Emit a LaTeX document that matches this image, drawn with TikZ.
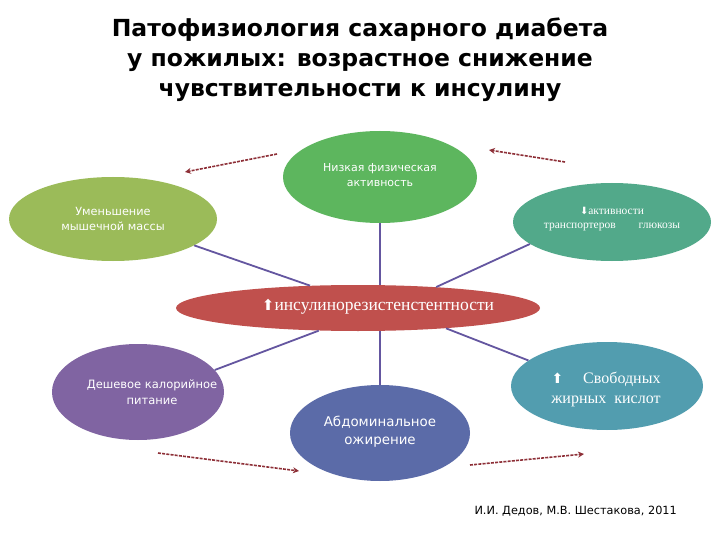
\documentclass[tikz,border=0pt]{standalone}
\usepackage{fontspec}
\setmainfont{Liberation Serif}
\setsansfont{DejaVu Sans}
\newfontfamily\titlefont{DejaVu Sans}
\newfontfamily\lightsans{DejaVu Sans}
\newfontfamily\symb{DejaVu Sans}
\usetikzlibrary{shapes.geometric,arrows.meta}
\definecolor{cgreen}{HTML}{5DB65E}
\definecolor{colive}{HTML}{9BBB59}
\definecolor{cteal}{HTML}{52A98A}
\definecolor{cred}{HTML}{C0504D}
\definecolor{cpurple}{HTML}{8064A2}
\definecolor{cblue}{HTML}{5B6BA8}
\definecolor{cteal2}{HTML}{529DAF}
\definecolor{cline}{HTML}{6456A0}
\definecolor{carrow}{HTML}{8E3038}
\tikzset{
  blob/.style={ellipse, inner sep=0pt, text=white, align=center},
  lbl/.style={text=white, align=center, inner sep=0pt},
  link/.style={draw=cline, line width=1.8pt},
  darrow/.style={draw=carrow, line width=1.6pt, dash pattern=on 3pt off 1.2pt, -{Stealth[length=6pt,width=6pt]}},
}
\newcommand{\uparr}[1]{{\symb\fontsize{#1}{#1}\selectfont⬆}}
\newcommand{\dnarr}[1]{{\symb\fontsize{#1}{#1}\selectfont⬇}}
\begin{document}
\begin{tikzpicture}[x=1pt,y=-1pt]
\useasboundingbox[fill=white] (0,0) rectangle (720,540);
% title
\node[font=\titlefont\bfseries\fontsize{23.5}{30}\selectfont, align=center] (title) at (360,60)
  {Патофизиология сахарного диабета\\ у пожилых: возрастное снижение\\ чувствительности к инсулину};
% ellipses
\node[blob, fill=cgreen, minimum width=194pt, minimum height=92pt] (green) at (380,177) {};
\node[lbl, font=\lightsans\fontsize{11}{15.5}\selectfont] (greent) at (380,175) {Низкая физическая\\активность};
\node[blob, fill=colive, minimum width=208pt, minimum height=84pt] (olive) at (113,219) {};
\node[lbl, font=\lightsans\fontsize{11.3}{15}\selectfont] (olivet) at (113,219) {Уменьшение\\мышечной массы};
\node[blob, fill=cteal, minimum width=198pt, minimum height=78pt] (teal) at (612,222) {};
\node[lbl, font=\fontsize{11.5}{13.5}\selectfont] (tealt) at (612,219) {\dnarr{10}активности\\транспортеров\quad\quad глюкозы};
\node[blob, fill=cred, minimum width=364pt, minimum height=46pt] (red) at (358,308) {};
\node[lbl, font=\fontsize{17.5}{18}\selectfont] (redt) at (378,307) {\uparr{15}инсулинорезистенстентности};
\node[blob, fill=cpurple, minimum width=172pt, minimum height=96pt] (purple) at (138,392) {};
\node[lbl, font=\lightsans\fontsize{11.5}{15.5}\selectfont] (purplet) at (152,392) {Дешевое калорийное\\питание};
\node[blob, fill=cblue, minimum width=180pt, minimum height=96pt] (blue) at (380,433) {};
\node[lbl, font=\lightsans\fontsize{13.4}{18}\selectfont] (bluet) at (380,432) {Абдоминальное\\ожирение};
\node[blob, fill=cteal2, minimum width=192pt, minimum height=88pt] (teal2) at (607,386) {};
\node[lbl, font=\fontsize{16}{20}\selectfont] (teal2t) at (606,389) {\uparr{14}\quad\ Свободных\\жирных\ \ кислот};
% connectors
\draw[link] (green.south) -- (green.south |- red.north);
\draw[link] (olive.-18) -- (red.155);
\draw[link] (teal.195) -- (red.15);
\draw[link] (red.210) -- (purple.16);
\draw[link] (blue.north |- red.south) -- (blue.north);
\draw[link] (red.347) -- (teal2.162);
% dashed arrows
\coordinate (a1s) at (277,154); \coordinate (a1e) at (185,172);
\coordinate (a2s) at (565,162); \coordinate (a2e) at (489,150);
\coordinate (a3s) at (158,453); \coordinate (a3e) at (299,471);
\coordinate (a4s) at (470,465); \coordinate (a4e) at (584,454);
\draw[darrow] (a1s) -- (a1e);
\draw[darrow] (a2s) -- (a2e);
\draw[darrow] (a3s) -- (a3e);
\draw[darrow] (a4s) -- (a4e);
% citation
\node[font=\lightsans\fontsize{11.3}{13}\selectfont, anchor=west] (cite) at (471,511) {И.И. Дедов, М.В. Шестакова, 2011};
\end{tikzpicture}
\end{document}
